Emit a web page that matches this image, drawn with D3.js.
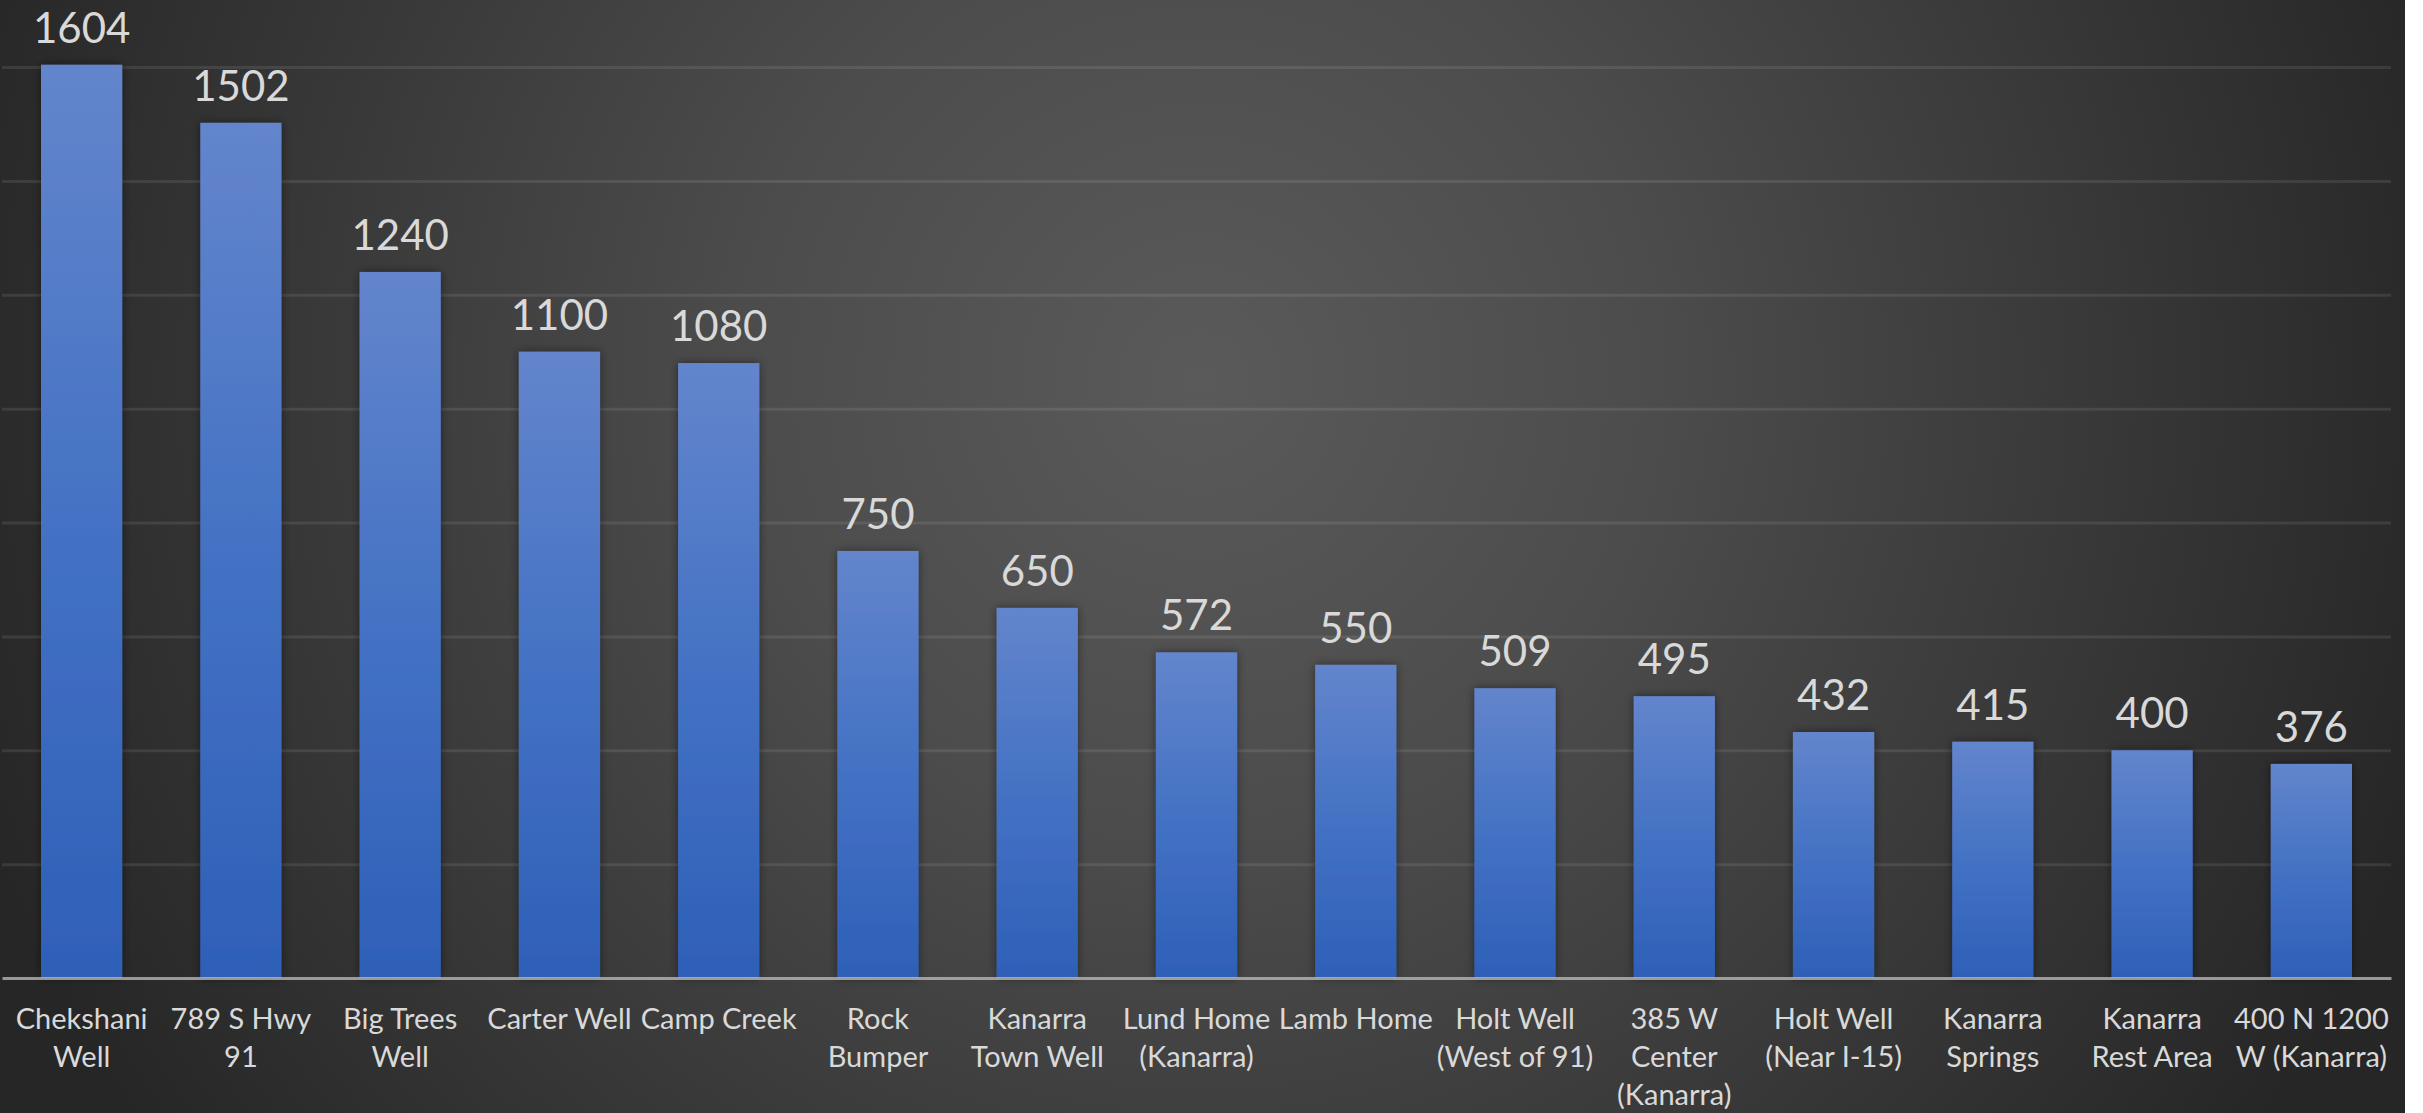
<!DOCTYPE html>
<html>
<head>
<meta charset="utf-8">
<script src="https://cdn.jsdelivr.net/npm/d3@7"></script>
<style>
  html, body { margin: 0; padding: 0; background: #ffffff; }
  svg { display: block; }
  text { font-family: Lato, "Open Sans", sans-serif; }
</style>
</head>
<body>
<svg id="chart" width="2423" height="1113"></svg>
<script>
const categories = [
  "Chekshani Well", "789 S Hwy 91", "Big Trees Well", "Carter Well", "Camp Creek",
  "Rock Bumper", "Kanarra Town Well", "Lund Home (Kanarra)", "Lamb Home",
  "Holt Well (West of 91)", "385 W Center (Kanarra)", "Holt Well (Near I-15)",
  "Kanarra Springs", "Kanarra Rest Area", "400 N 1200 W (Kanarra)"
];
const values = [1604, 1502, 1240, 1100, 1080, 750, 650, 572, 550, 509, 495, 432, 415, 400, 376];
const yTicks = [0, 200, 400, 600, 800, 1000, 1200, 1400, 1600];

(function () {
const W = 2423, H = 1113;
const bgW = 2405;
const svg = d3.select("#chart");
const defs = svg.append("defs");

const bg = defs.append("radialGradient").attr("id", "bgGrad")
  .attr("gradientUnits", "userSpaceOnUse")
  .attr("cx", 1200).attr("cy", 380).attr("r", 1300)
  .attr("fx", 1200).attr("fy", 380);
bg.append("stop").attr("offset", "0").attr("stop-color", "#5a5a5a");
bg.append("stop").attr("offset", "0.35").attr("stop-color", "#4c4c4c");
bg.append("stop").attr("offset", "1").attr("stop-color", "#262626");

const barGrad = defs.append("linearGradient").attr("id", "barGrad")
  .attr("x1", 0).attr("y1", 0).attr("x2", 0).attr("y2", 1);
barGrad.append("stop").attr("offset", "0").attr("stop-color", "#6385cc");
barGrad.append("stop").attr("offset", "0.5").attr("stop-color", "#4472c4");
barGrad.append("stop").attr("offset", "1").attr("stop-color", "#2e60b8");

const shadow = defs.append("filter").attr("id", "shadow")
  .attr("x", "-20%").attr("y", "-5%").attr("width", "140%").attr("height", "110%");
shadow.append("feDropShadow").attr("dx", 0).attr("dy", 0).attr("stdDeviation", 5)
  .attr("flood-color", "#000").attr("flood-opacity", 0.45);

svg.append("rect").attr("x", 0).attr("y", 0).attr("width", bgW).attr("height", H)
  .attr("fill", "url(#bgGrad)");

const pLeft = 2, pRight = 2391, pTop = 67, pBottom = 978;

const x = d3.scaleBand().domain(categories).range([pLeft, pRight])
  .paddingInner(0.49).paddingOuter(0.245);
const y = d3.scaleLinear().domain([0, 1600]).range([pBottom, pTop]);

// gridlines
const grid = svg.append("g").attr("transform", `translate(${pLeft},0)`)
  .call(d3.axisLeft(y).tickValues(yTicks).tickSize(-(pRight - pLeft)).tickFormat(""));
grid.select(".domain").remove();
grid.selectAll(".tick line")
  .attr("stroke", "#ffffff").attr("stroke-opacity", 0.09).attr("stroke-width", 3);
grid.selectAll(".tick").filter(d => d === 0).remove();

// bars
svg.append("g").selectAll("rect").data(values).join("rect")
  .attr("x", (d, i) => x(categories[i]))
  .attr("y", d => y(d))
  .attr("width", x.bandwidth())
  .attr("height", d => pBottom - y(d))
  .attr("fill", "url(#barGrad)")
  .attr("filter", "url(#shadow)");

// value labels
svg.append("g").selectAll("text").data(values).join("text")
  .attr("x", (d, i) => x(categories[i]) + x.bandwidth() / 2)
  .attr("y", d => y(d) - 22)
  .attr("text-anchor", "middle")
  .attr("fill", "#d9d9d9")
  .style("font-size", "42px")
  .text(d => d);

// x axis
const xAxis = svg.append("g").attr("transform", `translate(0,${pBottom})`)
  .call(d3.axisBottom(x).tickSize(0).tickPadding(0));
xAxis.select(".domain").attr("stroke", "#bfbfbf").attr("stroke-opacity", 0.75).attr("stroke-width", 3);
xAxis.selectAll(".tick text")
  .attr("fill", "#d9d9d9")
  .style("font-size", "29px")
  .attr("y", 0).attr("dy", 0)
  .each(function (d) {
    const t = d3.select(this);
    const words = d.split(" ");
    const maxW = x.step() - 2;
    t.text(null);
    let lines = [];
    let line = [];
    const probe = t.append("tspan");
    words.forEach(w => {
      const test = line.concat([w]).join(" ");
      probe.text(test);
      if (probe.node().getComputedTextLength() > maxW && line.length) {
        lines.push(line.join(" "));
        line = [w];
      } else {
        line.push(w);
      }
    });
    lines.push(line.join(" "));
    probe.remove();
    lines.forEach((l, i) => {
      t.append("tspan").attr("x", 0).attr("y", 51 + i * 38).text(l);
    });
  });
})();
</script>
</body>
</html>
